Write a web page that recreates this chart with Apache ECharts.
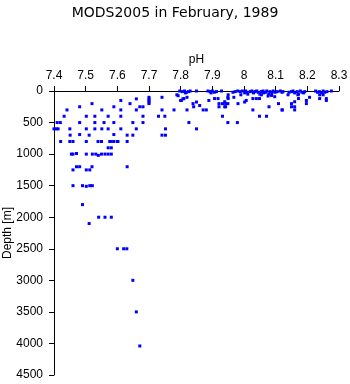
<!DOCTYPE html>
<html>
<head>
<meta charset="utf-8">
<script src="https://cdn.jsdelivr.net/npm/echarts@6/dist/echarts.min.js"></script>
<style>html,body{margin:0;padding:0;background:#fff}#c{width:350px;height:384px}</style>
</head>
<body>
<div id="c"></div>
<script>
var titleText = 'MODS2005 in February, 1989';
var xName = 'pH';
var yName = 'Depth [m]';
var xTicks = [7.4, 7.5, 7.6, 7.7, 7.8, 7.9, 8.0, 8.1, 8.2, 8.3];
var yTicks = [0, 500, 1000, 1500, 2000, 2500, 3000, 3500, 4000, 4500];

// deep & intermediate samples
var phDeep = [7.400,7.408,7.413,7.410,7.420,7.421,7.432,7.441,7.450,7.451,7.450,7.460,7.455,7.460,7.471,
  7.481,7.481,7.481,7.460,7.471,7.481,7.460,7.490,7.502,7.513,7.521,7.490,7.511,7.520,
  7.502,7.502,7.502,7.502,7.511,7.502,7.513,7.520,7.521,7.532,7.529,7.529,7.529,7.540,
  7.539,7.550,7.551,7.551,7.550,7.561,7.571,7.581,7.558,7.571,7.571,7.571,7.581,7.581,
  7.589,7.589,7.589,7.589,7.600,7.541,7.561,7.581,7.611,7.611,7.611,7.611,
  7.631,7.631,7.631,7.640,7.649,7.649,7.660,7.660,7.660,7.671,7.681,7.681,7.681,
  7.700,7.700,7.700,7.700,7.700,7.730,7.750,7.741,7.741,7.741,7.752,7.752,
  7.779,7.792,7.800,7.807,7.820,7.826,7.602,7.576,
  7.600,7.620,7.630,7.649,7.660,7.671];
var depthDeep = [600,600,600,500,500,800,400,300,600,700,800,800,1000,1000,990,
  250,500,690,1250,1200,1200,1500,1500,1510,1500,1500,1800,2100,200,
  400,600,800,1000,700,1250,1250,1200,1000,1000,400,500,600,1020,
  800,800,600,300,1000,1000,1000,1000,500,400,600,900,900,800,
  250,500,690,800,800,2000,2000,2000,150,300,400,600,
  700,800,1200,200,500,700,125,300,600,250,250,400,500,
  100,125,150,175,200,400,400,100,300,700,700,600,
  300,75,150,125,300,500,800,800,
  2500,2500,2500,3000,3500,4040];

// shallow samples (0 - 600 m, pH > 7.77)
var phShallow = [7.788,7.802,7.810,7.820,7.839,7.841,7.850,7.860,7.871,7.881,7.850,
  7.889,7.907,7.918,7.921,7.932,7.939,7.921,7.939,7.949,7.949,7.932,7.949,
  7.950,7.950,7.968,7.990,7.981,8.002,8.007,7.942,7.942,8.028,8.039,8.049,8.028,
  8.055,8.076,8.087,8.097,8.079,8.049,8.071,8.109,8.120,7.979,
  8.139,8.150,8.150,8.160,8.160,8.160,8.170,8.172,8.197,8.197,8.207,8.121,
  8.239,8.239,8.250,8.260,8.260];
var depthShallow = [60,150,120,100,200,250,175,230,300,300,600,
  150,120,120,200,200,170,250,250,100,200,400,500,
  60,120,100,60,200,175,150,200,250,120,120,120,300,
  60,80,70,90,250,400,400,200,300,500,
  60,200,250,170,250,300,60,120,150,200,100,300,
  60,120,60,120,150];

// surface samples
var phSurface = [7.797,7.805,7.812,7.818,7.825,7.830,7.815,7.850,
  7.886,7.893,7.900,7.906,7.913,7.896,7.929,
  7.965,7.972,7.980,7.988,7.995,8.002,
  8.005,8.010,8.012,8.020,8.025,8.030,8.035,8.040,8.045,8.050,8.055,8.060,8.062,8.068,8.072,8.078,8.082,8.088,8.092,8.098,8.105,8.115,8.120,8.123,
  8.142,8.150,8.155,8.160,8.168,8.172,8.178,8.183,8.188,8.192,
  8.226,8.232,8.238,8.245,8.250,8.255,8.262,8.276];
var depthSurface = [0,10,0,20,10,0,30,0,
  0,10,0,20,10,30,0,
  20,10,0,10,0,30,
  0,20,50,10,0,30,10,0,20,50,10,0,30,20,0,50,10,30,0,20,10,0,20,10,
  20,10,0,30,10,50,0,20,30,10,
  0,20,10,30,0,20,10,0];

function pairs(xs, ys) { var out = []; for (var i = 0; i < xs.length; i++) out.push([xs[i], ys[i]]); return out; }
var allData = pairs(phDeep, depthDeep).concat(pairs(phShallow, depthShallow), pairs(phSurface, depthSurface));

var font = 'Liberation Sans, Arial, sans-serif';
var chart = echarts.init(document.getElementById('c'), null, {renderer: 'canvas'});
chart.setOption({
  animation: false,
  backgroundColor: '#fff',
  title: {text: titleText, left: 'center', top: 1,
    textStyle: {fontFamily: 'DejaVu Sans', fontSize: 14, fontWeight: 'normal', color: '#000'}},
  grid: {left: 54, right: 11, top: 91, bottom: 9, containLabel: false, outerBoundsMode: 'none'},
  xAxis: {
    type: 'value', position: 'top', min: xTicks[0], max: xTicks[xTicks.length - 1], interval: 0.1,
    name: xName, nameLocation: 'middle', nameGap: 25, nameMoveOverlap: false,
    nameTextStyle: {fontFamily: font, fontSize: 12, color: '#000'},
    axisLine: {show: true, lineStyle: {color: '#000', width: 1}},
    axisTick: {show: true, inside: false, length: 5, lineStyle: {color: '#000'}},
    axisLabel: {fontFamily: font, fontSize: 12, color: '#000', margin: 9,
      formatter: function (v) { return String(Math.round(v * 10) / 10); }},
    splitLine: {show: false}
  },
  yAxis: {
    type: 'value', inverse: true, min: yTicks[0], max: yTicks[yTicks.length - 1], interval: 500,
    name: yName, nameLocation: 'middle', nameGap: 40, nameRotate: 90, nameMoveOverlap: false,
    nameTextStyle: {fontFamily: font, fontSize: 12, color: '#000'},
    axisLine: {show: true, lineStyle: {color: '#000', width: 1}},
    axisTick: {show: true, inside: false, length: 5, lineStyle: {color: '#000'}},
    axisLabel: {fontFamily: font, fontSize: 12, color: '#000', margin: 11,
      formatter: function (v) { return String(Math.round(v)); }},
    splitLine: {show: false}
  },
  series: [{
    type: 'scatter', symbol: 'rect', symbolSize: 3,
    itemStyle: {color: '#0000ff', opacity: 1},
    data: allData
  }]
});
</script>
</body>
</html>
